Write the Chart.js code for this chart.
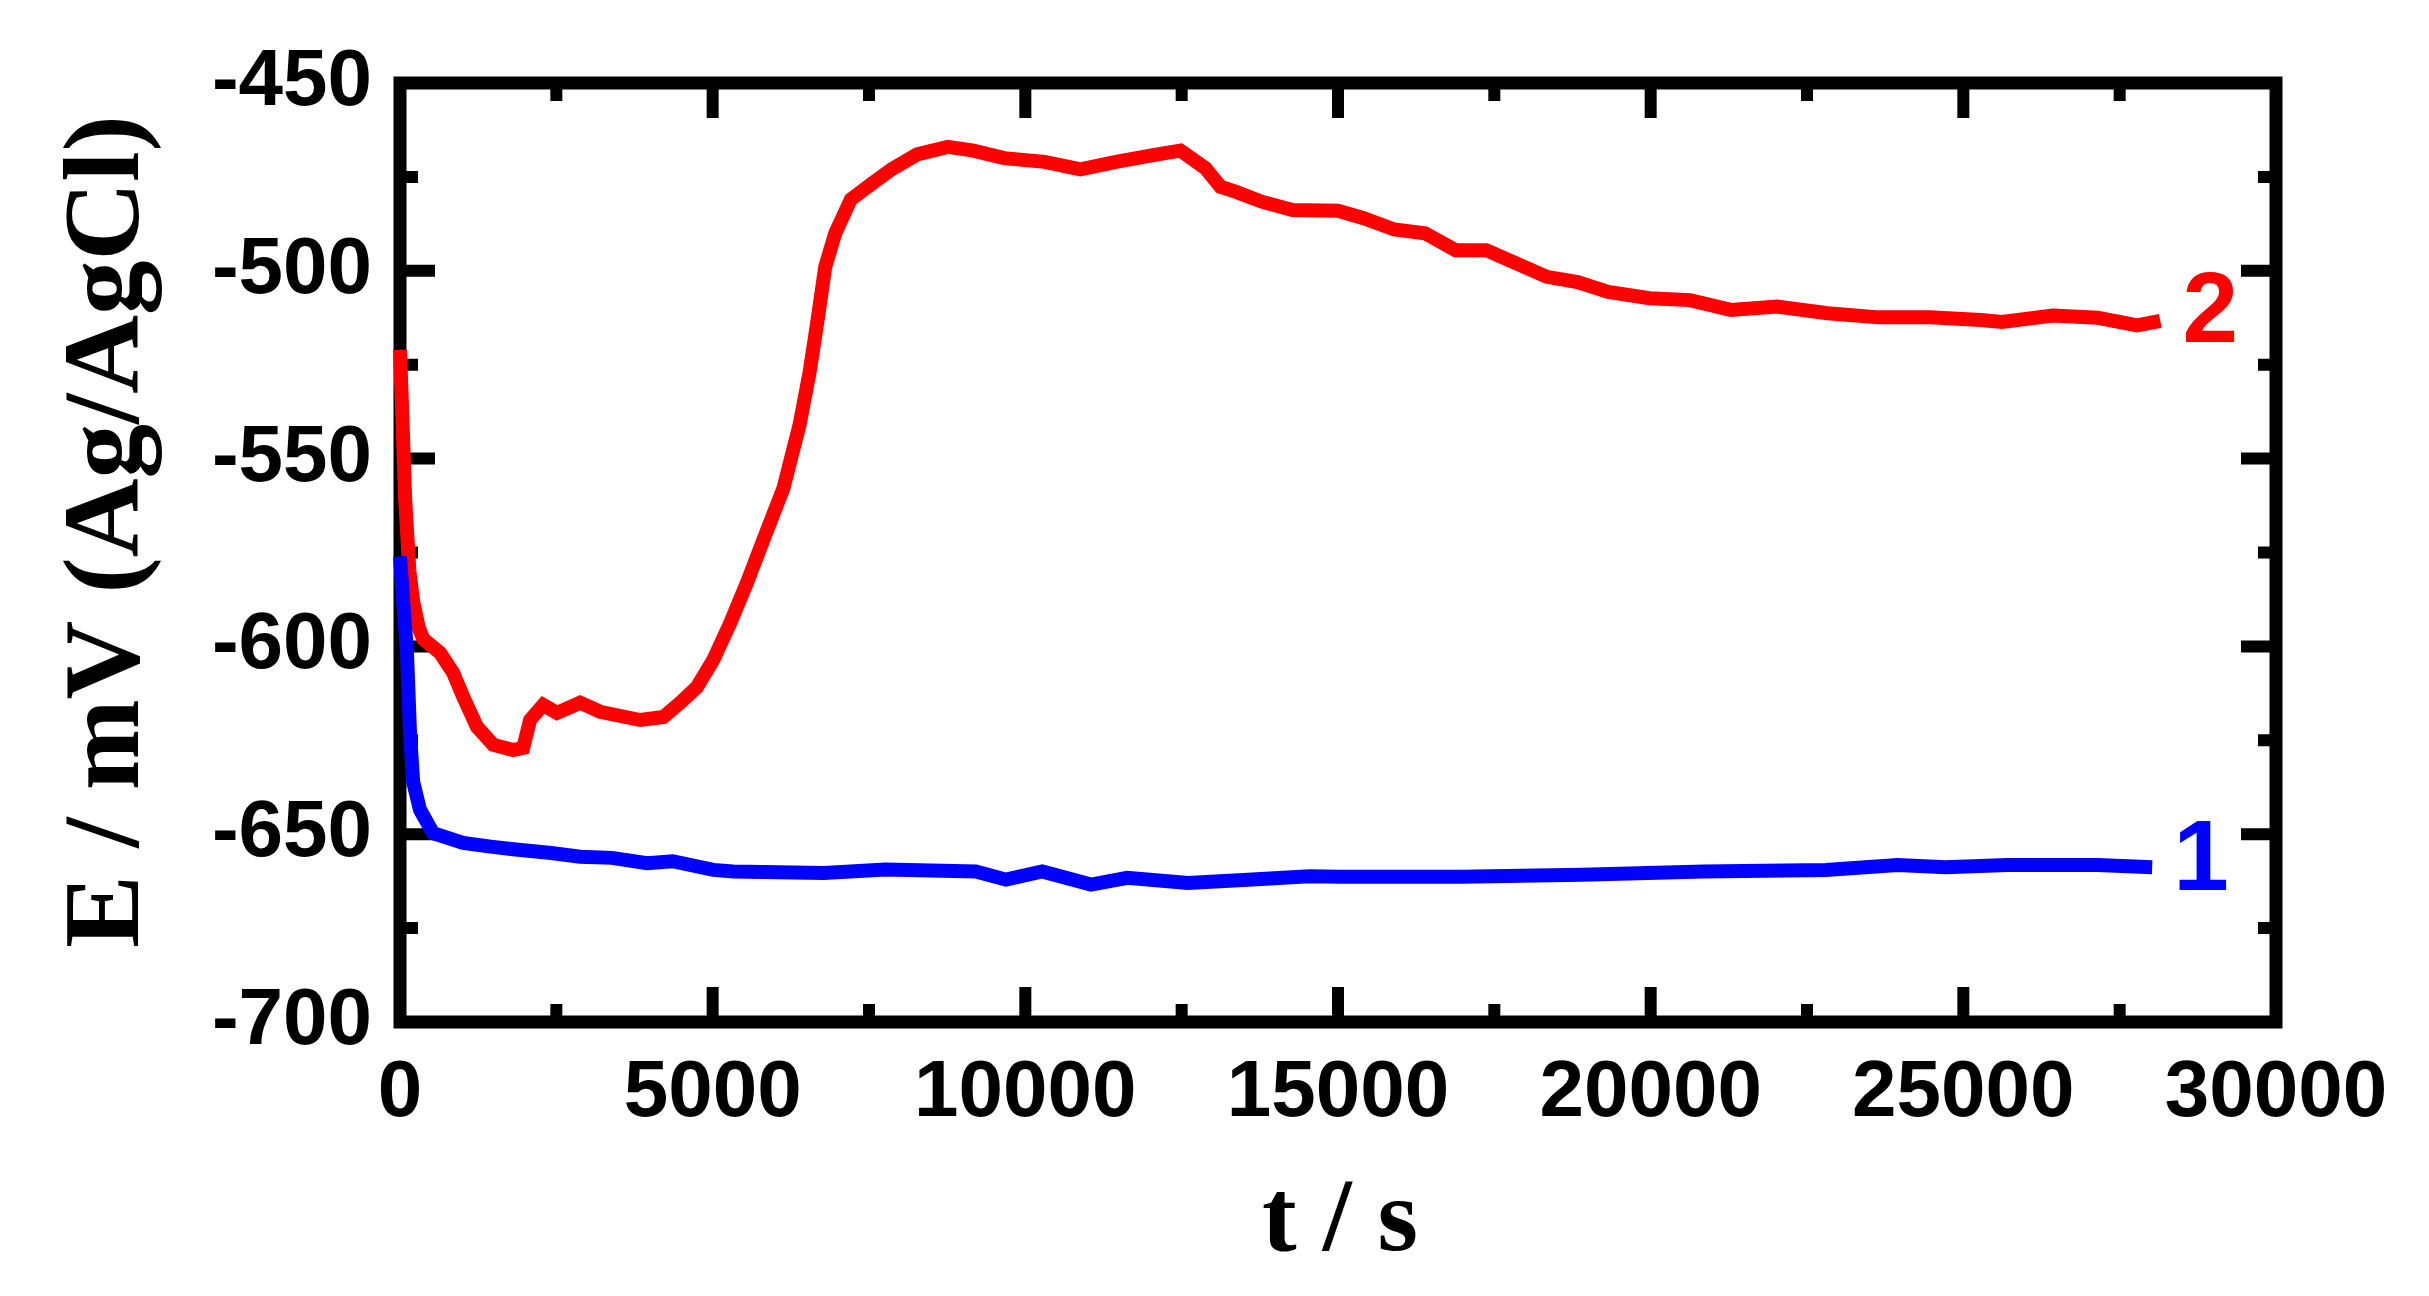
<!DOCTYPE html>
<html lang="en">

<head>
    <meta charset="UTF-8" />
    <title>Open circuit potential vs time</title>
    <script src="https://cdn.jsdelivr.net/npm/chart.js"></script>
    <style>
        html, body {
            margin: 0;
            padding: 0;
            background: #ffffff;
        }

        #wrap {
            width: 2429px;
            height: 1296px;
        }
    </style>
</head>

<body>
    <div id="wrap">
        <canvas id="ocpChart" width="2429" height="1296"></canvas>
    </div>

    <script>
        // curve 2 (red)
        const timeRed = [0, 40, 80, 150, 210, 300, 370, 640, 850, 1010, 1230, 1490, 1810, 1970, 2080, 2290,
            2510, 2880, 3200, 3840, 4210, 4480, 4750, 5010, 5280, 5550, 5810, 6130, 6390, 6550, 6670, 6800,
            6960, 7210, 7530, 7860, 8270, 8760, 9170, 9660, 10310, 10880, 11450, 12110, 12480, 12880, 13120,
            13370, 13780, 14270, 15000, 15410, 15900, 16390, 16880, 17370, 17850, 18340, 18830, 19320, 19980,
            20630, 21280, 22020, 22830, 23650, 24460, 25280, 25620, 26430, 27150, 27780, 28150];
        const potRed = [-521, -540, -560, -580, -588, -595, -598, -601.7, -607, -613.4, -621.4, -626.2, -627.6, -627, -619.6, -615.6,
            -617.7, -615, -617.4, -619.6, -618.8, -615, -610.8, -603.6, -593.8, -583, -571.7, -558, -541, -527, -514, -499,
            -490, -481, -477, -473, -469, -467, -468, -470, -471, -473, -471, -469, -468, -472.7, -477.6,
            -479, -481.6, -483.8, -484, -486, -489, -490, -494.5, -494.5, -498, -501.6, -503, -505.6, -507.3,
            -507.8, -510.4, -509.5, -511.3, -512.4, -512.4, -513.1, -513.6, -511.9, -512.5, -514.5, -513.3];

        // curve 1 (blue)
        const timeBlue = [0, 60, 110, 160, 210, 320, 530, 1010, 1450, 1810, 2420, 2880, 3390, 3950, 4360, 5010,
            5330, 6780, 7760, 9210, 9690, 10270, 11050, 11630, 12600, 13560, 14540, 15030, 16970, 18900, 20850,
            22800, 23950, 24720, 25700, 27150, 28020];
        const potBlue = [-576, -590, -601, -623, -636, -643.5, -649.7, -652.3, -653.3, -654, -655, -656, -656.3, -657.7, -657.2, -659.5,
            -659.9, -660.3, -659.4, -659.9, -662.1, -659.9, -663.4, -661.6, -663, -662.1, -661.2, -661.3, -661.3, -660.8, -659.9,
            -659.5, -658.2, -658.8, -658.2, -658.2, -658.8];

        const xTicks = [0, 5000, 10000, 15000, 20000, 25000, 30000];
        const yTicks = [-700, -650, -600, -550, -500, -450];

        const xTitle = "t / s";
        const yTitle = "E / mV (Ag/AgCl)";

        // curve numbers and where they sit (data units)
        const curveNames = ["1", "2"];
        const curveNameT = [28800, 28950];
        const curveNameE = [-657.5, -511.5];
        const curveColors = ["#0000ff", "#ff0000"];

        const toPoints = (ts, es) => ts.map((t, i) => ({ x: t, y: es[i] }));

        // frame + inward ticks on all four sides, curve numbers, axis titles
        const frameTicks = {
            id: "frameTicks",
            beforeDatasetsDraw(chart) {
                const { ctx, chartArea: a, scales: { x, y } } = chart;
                ctx.save();
                ctx.strokeStyle = "#000";
                ctx.lineWidth = 12;
                ctx.beginPath();
                const seg = (x1, y1, x2, y2) => { ctx.moveTo(x1, y1); ctx.lineTo(x2, y2); };
                xTicks.forEach((v, i) => {
                    const px = x.getPixelForValue(v);
                    seg(px, a.bottom, px, a.bottom - 35);
                    seg(px, a.top, px, a.top + 35);
                    if (i < xTicks.length - 1) {
                        const mx = x.getPixelForValue((v + xTicks[i + 1]) / 2);
                        seg(mx, a.bottom, mx, a.bottom - 18);
                        seg(mx, a.top, mx, a.top + 18);
                    }
                });
                yTicks.forEach((v, i) => {
                    const py = y.getPixelForValue(v);
                    seg(a.left, py, a.left + 35, py);
                    seg(a.right, py, a.right - 35, py);
                    if (i < yTicks.length - 1) {
                        const my = y.getPixelForValue((v + yTicks[i + 1]) / 2);
                        seg(a.left, my, a.left + 18, my);
                        seg(a.right, my, a.right - 18, my);
                    }
                });
                ctx.stroke();
                ctx.lineWidth = 13;
                ctx.strokeRect(a.left, a.top, a.right - a.left, a.bottom - a.top);
                ctx.restore();
            },
            afterDatasetsDraw(chart) {
                const { ctx, chartArea: a, scales: { x, y } } = chart;
                ctx.save();
                ctx.font = "bold 100px 'Liberation Sans', Arial, sans-serif";
                ctx.textAlign = "center";
                ctx.textBaseline = "middle";
                curveNames.forEach((txt, i) => {
                    ctx.fillStyle = curveColors[i];
                    ctx.fillText(txt, x.getPixelForValue(curveNameT[i]), y.getPixelForValue(curveNameE[i]));
                });

                ctx.fillStyle = "#000";
                ctx.font = "bold 104px 'Liberation Serif', 'Times New Roman', serif";
                ctx.textBaseline = "alphabetic";
                ctx.fillText(xTitle, (a.left + a.right) / 2 + 2, 1250);

                ctx.font = "bold 109px 'Liberation Serif', 'Times New Roman', serif";
                ctx.translate(110, (a.top + a.bottom) / 2 - 21);
                ctx.rotate(-Math.PI / 2);
                ctx.textBaseline = "middle";
                ctx.fillText(yTitle, 0, 0);
                ctx.restore();
            }
        };

        const tickFont = { family: "'Liberation Sans', Arial, sans-serif", size: 80, weight: "bold" };

        new Chart(document.getElementById("ocpChart"), {
            type: "line",
            data: {
                datasets: [{
                    label: "1",
                    data: toPoints(timeBlue, potBlue),
                    borderColor: "#0000ff",
                    borderWidth: 14,
                    pointRadius: 0,
                    tension: 0,
                    clip: false
                }, {
                    label: "2",
                    data: toPoints(timeRed, potRed),
                    borderColor: "#ff0000",
                    borderWidth: 14,
                    pointRadius: 0,
                    tension: 0,
                    clip: false
                }]
            },
            plugins: [frameTicks],
            options: {
                responsive: false,
                animation: false,
                devicePixelRatio: 1,
                layout: { padding: { left: 0, right: 153, top: 83, bottom: 0 } },
                plugins: {
                    legend: { display: false },
                    tooltip: { enabled: false },
                    title: { display: false }
                },
                scales: {
                    x: {
                        type: "linear",
                        min: 0,
                        max: 30000,
                        afterBuildTicks: s => { s.ticks = xTicks.map(v => ({ value: v })); },
                        afterFit: s => { s.height = 274; },
                        grid: { display: false, drawTicks: false },
                        border: { display: false },
                        ticks: {
                            color: "#000",
                            font: tickFont,
                            padding: 24,
                            maxRotation: 0,
                            autoSkip: false,
                            callback: v => String(v)
                        }
                    },
                    y: {
                        type: "linear",
                        min: -700,
                        max: -450,
                        afterBuildTicks: s => { s.ticks = yTicks.map(v => ({ value: v })); },
                        afterFit: s => { s.width = 400; },
                        grid: { display: false, drawTicks: false },
                        border: { display: false },
                        ticks: {
                            color: "#000",
                            font: tickFont,
                            padding: 28,
                            autoSkip: false,
                            callback: v => String(v)
                        }
                    }
                }
            }
        });
    </script>
</body>

</html>
